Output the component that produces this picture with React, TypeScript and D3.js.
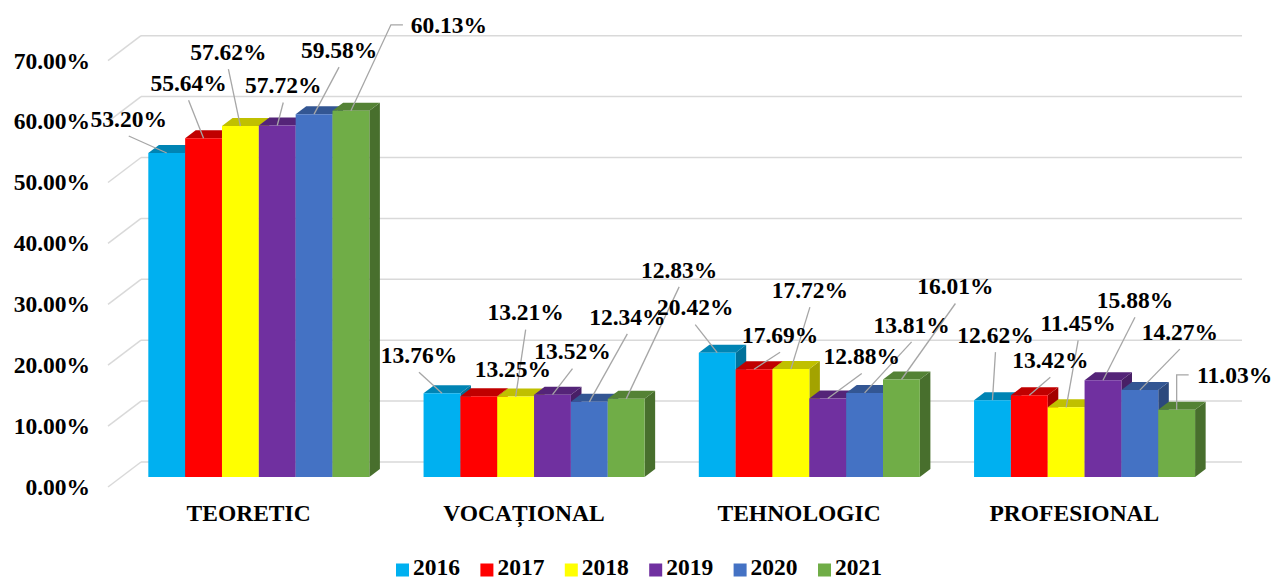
import React from 'react';
import * as d3 from 'd3';

// categories, series and ticks
const categories = ['TEORETIC', 'VOCAȚIONAL', 'TEHNOLOGIC', 'PROFESIONAL'];
const years = ['2016', '2017', '2018', '2019', '2020', '2021'];
const v2016 = [53.2, 13.76, 20.42, 12.62];
const v2017 = [55.64, 13.25, 17.69, 13.42];
const v2018 = [57.62, 13.21, 17.72, 11.45];
const v2019 = [57.72, 13.52, 12.88, 15.88];
const v2020 = [59.58, 12.34, 13.81, 14.27];
const v2021 = [60.13, 12.83, 16.01, 11.03];
const series = [v2016, v2017, v2018, v2019, v2020, v2021];
const ticks = [0, 10, 20, 30, 40, 50, 60, 70];

const COLORS = ['#00B0F0', '#FF0000', '#FFFF00', '#7030A0', '#4472C4', '#70AD47'];

// manual label placement (offset of label centre from its bar's top), per year x category
const labelOffsets: [number, number][][] = [
  [[-38, -34], [-23, -38], [-22, -45], [3, -65]],
  [[-15, -55], [34, -27], [26, -34], [21, -35]],
  [[-12, -74], [10, -84], [19, -79], [12, -84]],
  [[6, -40], [20, -43], [34, -42], [32, -80]],
  [[25, -64], [38, -85], [47, -68], [40, -58]],
  [[98, -86], [53, -129], [54, -93], [58, -35]],
];
const leaderKind = (s: number, c: number) =>
  s === 5 && (c === 0 || c === 3) ? 'left' : s === 1 && c === 1 ? 'none' : 'bottom';

const W = 1276;
const H = 579;
const DX = 33; // full depth shift
const DY = 25;
const D0 = 0.4; // bar front depth
const D1 = 0.72; // bar back depth
const FS = 23.5;

const x = d3.scaleBand<string>().domain(categories).range([108, 1209]).paddingInner(0.197).paddingOuter(0.0985);
const y = d3.scaleLinear().domain([0, 70]).range([487, 60.7]);
const P = (px: number, v: number, d: number): [number, number] => [px + d * DX, y(v) - d * DY];
const poly = (pts: [number, number][]) => pts.map((p) => p.join(',')).join(' ');
const fmt = (v: number) => v.toFixed(2) + '%';

function T(props: { x: number; y: number; anchor?: string; children: React.ReactNode }) {
  return (
    <text x={props.x} y={props.y} textAnchor={props.anchor ?? 'start'} fontWeight="bold" fontSize={FS}
      style={{ fontFamily: 'Liberation Serif' }}>
      {props.children}
    </text>
  );
}

export default function App() {
  const bw = x.bandwidth() / years.length;
  const bars: React.ReactNode[] = [];
  const leaders: React.ReactNode[] = [];
  const labels: React.ReactNode[] = [];

  categories.forEach((cat, c) => {
    series.forEach((vals, s) => {
      const v = vals[c];
      const x0 = (x(cat) as number) + s * bw;
      const x1 = x0 + bw;
      const base = COLORS[s];
      const top = d3.rgb(base).darker(0.8).formatHex();
      const side = d3.rgb(base).darker(1.25).formatHex();
      bars.push(
        <g key={`b${c}-${s}`}>
          <polygon points={poly([P(x1, 0, D0), P(x1, 0, D1), P(x1, v, D1), P(x1, v, D0)])} fill={side} />
          <polygon points={poly([P(x0, v, D0), P(x1, v, D0), P(x1, v, D1), P(x0, v, D1)])} fill={top} />
          <polygon points={poly([P(x0, 0, D0), P(x1, 0, D0), P(x1, v, D0), P(x0, v, D0)])} fill={base} />
        </g>
      );
      const [ax, ay] = P(x0 + bw / 2, v, D0);
      const [ox, oy] = labelOffsets[s][c];
      const cx = ax + ox;
      const cy = ay + oy;
      const kind = leaderKind(s, c);
      if (kind === 'bottom') {
        leaders.push(<line key={`l${c}-${s}`} x1={ax} y1={ay} x2={cx} y2={cy + 17} stroke="#A6A6A6" strokeWidth={1.3} />);
      } else if (kind === 'left') {
        const lx = cx - 38;
        leaders.push(
          <polyline key={`l${c}-${s}`} points={poly([[ax, ay], [lx - 20, cy], [lx - 8, cy]])} fill="none" stroke="#A6A6A6" strokeWidth={1.3} />
        );
      }
      labels.push(
        <T key={`t${c}-${s}`} x={cx} y={cy + 7.8} anchor="middle">
          {fmt(v)}
        </T>
      );
    });
  });

  const legendStep = 84.4;
  const legendX = 396;

  return (
    <svg width={W} height={H} style={{ position: 'absolute', left: 0, top: 0, background: '#fff' }}>
      {/* walls / gridlines */}
      {ticks.map((t) => {
        const [fx, fy] = P(108, t, 0);
        const [bx, by] = P(108, t, 1);
        const [ex] = P(1209, t, 1);
        return (
          <g key={t} stroke="#D9D9D9" strokeWidth={1.5} fill="none">
            <line x1={fx} y1={fy} x2={bx} y2={by} />
            <line x1={bx} y1={by} x2={ex} y2={by} />
          </g>
        );
      })}
      {ticks.map((t) => (
        <T key={`yt${t}`} x={90} y={y(t) + 7.8} anchor="end">
          {fmt(t)}
        </T>
      ))}
      {bars}
      {leaders}
      {labels}
      {categories.map((cat) => (
        <T key={cat} x={(x(cat) as number) + x.bandwidth() / 2 + 3} y={520.5} anchor="middle">
          {cat}
        </T>
      ))}
      {years.map((yr, i) => (
        <g key={yr} transform={`translate(${legendX + i * legendStep},0)`}>
          <rect x={0} y={563.5} width={13} height={13} fill={COLORS[i]} />
          <T x={17} y={575}>{yr}</T>
        </g>
      ))}
    </svg>
  );
}
